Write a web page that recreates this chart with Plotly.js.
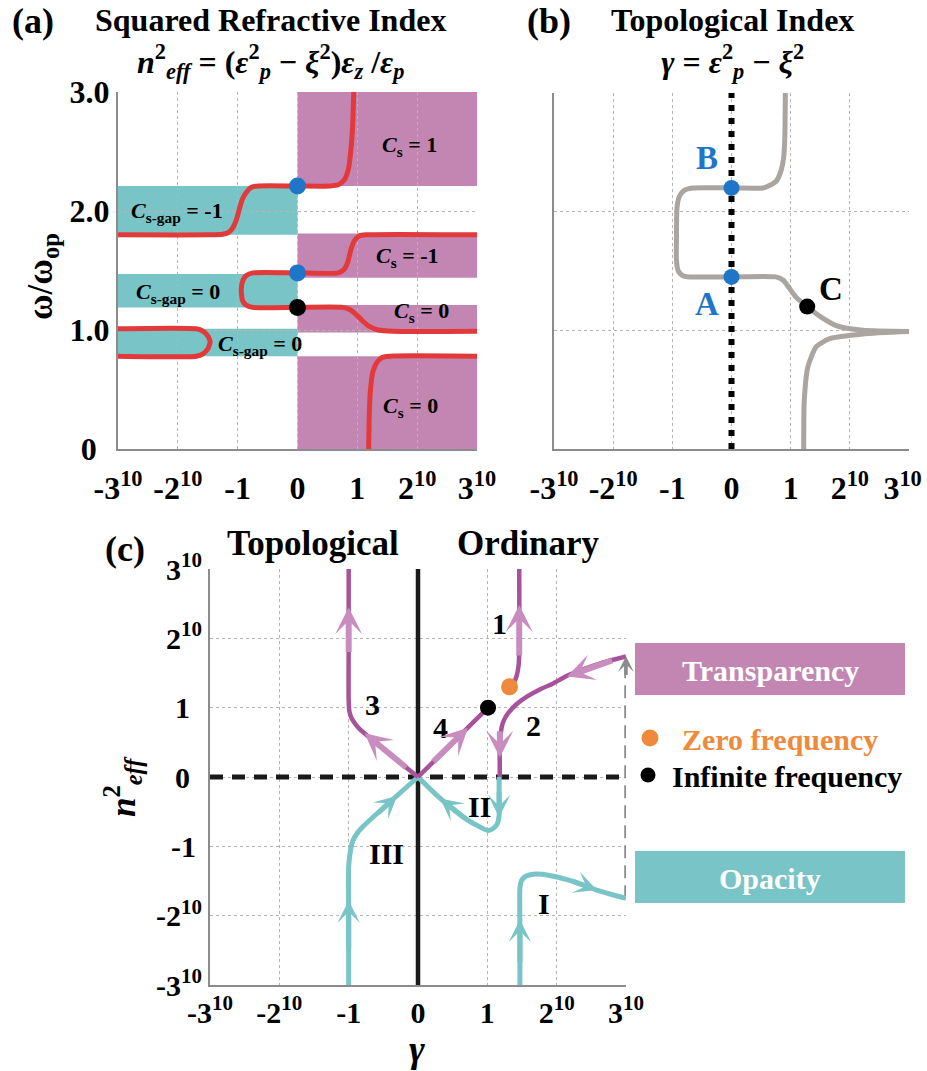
<!DOCTYPE html>
<html><head><meta charset="utf-8">
<script src="https://cdn.plot.ly/plotly-3.0.1.min.js"></script>
<style>html,body{margin:0;padding:0;background:#fff}#chart{width:927px;height:1071px}</style>
</head><body><div id="chart"></div>
<script>
// ---------- tick values / labels ----------
const powTickVals = [-3, -2, -1, 0, 1, 2, 3];
const powTickText = ['-3<sup>10</sup>', '-2<sup>10</sup>', '-1', '0', '1', '2<sup>10</sup>', '3<sup>10</sup>'];
const powTickTextB = ['-3<sup>10</sup>', '-2<sup>10</sup>', '-1', '0', '1', '2<sup>10</sup>', '3<sup>10</sup>\u2009\u2009'];
const nTickText = ['-3<sup>10</sup>', '-2<sup>10</sup>', '-1\u2009', '0\u2009\u2009', '1\u2009\u2009', '2<sup>10</sup>', '3<sup>10</sup>'];
const omegaTickVals = [0, 1, 2, 3];
const omegaTickText = ['0\u2009\u2009', '1.0', '2.0', '3.0'];

// ---------- panel (a): bands ----------
const gapBandX = [-3, 0];
const gapBandLo = [1.80, 1.19, 0.78];
const gapBandHi = [2.21, 1.47, 1.01];
const passBandX = [0, 3];
const passBandLo = [2.21, 1.44, 0.98, 0.00];
const passBandHi = [3.00, 1.81, 1.21, 0.78];

// ---------- panel (a): red dispersion curves ----------
const redTopX = [-3, -1.5, -1.25, -1.15, -1.08, -1.02, -0.97, -0.92, -0.85, -0.77, -0.65, 0, 0.55, 0.68, 0.78, 0.85, 0.89, 0.92, 0.94];
const redTopY = [1.80, 1.80, 1.805, 1.82, 1.86, 1.93, 2.02, 2.10, 2.16, 2.20, 2.21, 2.21, 2.21, 2.22, 2.26, 2.35, 2.50, 2.70, 3.00];
const redMidX = [3, 1.15, 1.03, 0.95, 0.89, 0.84, 0.78, 0.68, 0, -0.75, -0.85, -0.91, -0.94, -0.92, -0.86, -0.75, 0, 0.76, 0.88, 0.98, 1.08, 1.2, 1.35, 1.6, 3];
const redMidY = [1.80, 1.80, 1.79, 1.75, 1.67, 1.57, 1.51, 1.48, 1.48, 1.48, 1.46, 1.42, 1.34, 1.25, 1.21, 1.19, 1.19, 1.19, 1.17, 1.13, 1.08, 1.03, 1.00, 0.99, 0.99];
const redLoopX = [-3, -1.69, -1.58, -1.5, -1.46, -1.5, -1.58, -1.69, -3];
const redLoopY = [1.01, 1.01, 0.99, 0.95, 0.90, 0.84, 0.80, 0.78, 0.78];
const redLowX = [3, 1.54, 1.42, 1.33, 1.26, 1.22, 1.20, 1.19];
const redLowY = [0.78, 0.78, 0.77, 0.73, 0.65, 0.50, 0.30, 0.00];
const aBlueX = [0, 0], aBlueY = [2.21, 1.48];
const aBlackX = [0], aBlackY = [1.19];
const aLabelText = ['<i>C</i><sub>s</sub> = 1', '<i>C</i><sub>s</sub> = -1', '<i>C</i><sub>s</sub> = 0', '<i>C</i><sub>s</sub> = 0',
  '<i>C</i><sub>s-gap</sub> = -1', '<i>C</i><sub>s-gap</sub> = 0', '<i>C</i><sub>s-gap</sub> = 0'];
const aLabelX = [1.87, 1.84, 2.07, 1.89, -2.02, -1.99, -0.62];
const aLabelY = [2.55, 1.61, 1.15, 0.35, 1.99, 1.31, 0.87];

// ---------- panel (b): topological index ----------
const gammaUpX = [0.91, 0.90, 0.88, 0.84, 0.76, 0.64, 0.53, 0, -0.66, -0.80, -0.88, -0.92, -0.93, -0.93, -0.90, -0.82, -0.71, 0, 0.75, 0.88, 0.97, 1.09, 1.28, 1.49, 1.77, 2.22, 3.0];
const gammaUpY = [3.0, 2.60, 2.45, 2.35, 2.26, 2.22, 2.20, 2.20, 2.20, 2.18, 2.13, 2.04, 1.80, 1.59, 1.50, 1.46, 1.45, 1.45, 1.45, 1.42, 1.36, 1.28, 1.20, 1.12, 1.04, 1.00, 0.99];
const gammaLowX = [3.0, 2.22, 1.66, 1.43, 1.29, 1.23, 1.22];
const gammaLowY = [0.99, 0.97, 0.93, 0.86, 0.69, 0.41, 0.0];
const zeroLineX = [0, 0], zeroLineY = [0, 3];
const bBlueX = [0, 0], bBlueY = [2.2, 1.45];
const bBlackX = [1.28], bBlackY = [1.2];
const bLabelText = ['B', 'A', 'C'];
const bLabelX = [-0.42, -0.42, 1.69];
const bLabelY = [2.45, 1.22, 1.35];

// ---------- panel (c): n_eff^2 vs gamma ----------
const c1X = [1.32, 1.38, 1.42, 1.45, 1.46, 1.46];
const c1Y = [1.30, 1.36, 1.45, 1.60, 1.80, 3.00];
const c2X = [3.0, 2.7, 2.43, 2.15, 1.95, 1.75, 1.57, 1.42, 1.30, 1.24, 1.21, 1.19, 1.18, 1.18];
const c2Y = [1.74, 1.66, 1.57, 1.46, 1.35, 1.26, 1.16, 1.05, 0.92, 0.82, 0.73, 0.60, 0.50, 0.00];
const c3X = [-1.0, -1.0, -1.0, -0.99, -0.96, -0.90, -0.84, 0];
const c3Y = [3.0, 2.0, 1.1, 0.95, 0.85, 0.76, 0.69, 0];
const c4X = [0, 1.01], c4Y = [0, 1.0];
const cIX = [1.47, 1.47, 1.47, 1.49, 1.54, 1.62, 1.71, 1.90, 2.19, 2.58, 3.0];
const cIY = [-3.0, -2.2, -1.6, -1.5, -1.44, -1.41, -1.40, -1.42, -1.49, -1.63, -1.75];
const cIIX = [1.17, 1.17, 1.17, 1.15, 1.10, 1.01, 0.70, 0.30, 0];
const cIIY = [0, -0.3, -0.55, -0.66, -0.73, -0.77, -0.61, -0.29, 0];
const cIIIX = [-1.0, -1.0, -1.0, -0.98, -0.94, -0.87, -0.80, 0];
const cIIIY = [-3.0, -2.0, -1.3, -1.1, -0.92, -0.80, -0.72, 0];
const axisVX = [0, 0], axisVY = [-3, 3];
const axisHX = [-3, 3], axisHY = [0, 0];
const linkX = [3, 3], linkY = [-1.75, 1.70];
const zeroFreqX = [1.32], zeroFreqY = [1.30];
const infFreqX = [1.01], infFreqY = [1.0];
const cLabelText = ['1', '2', '3', '4', 'I', 'II', 'III'];
const cLabelX = [1.18, 1.66, -0.65, 0.32, 1.82, 0.88, -0.45];
const cLabelY = [2.22, 0.75, 1.04, 0.71, -1.82, -0.42, -1.10];
// arrows: tail -> head
const pArrowTailX = [-1.0, -0.15, 1.46, 0.20, 2.82, 1.18];
const pArrowTailY = [1.78, 0.12, 1.73, 0.20, 1.69, 0.68];
const pArrowHeadX = [-1.0, -0.77, 1.46, 0.72, 2.15, 1.18];
const pArrowHeadY = [2.45, 0.63, 2.48, 0.71, 1.45, 0.28];
const tArrowTailX = [1.17, 0.70, -0.60, -1.0, 1.47, 2.20];
const tArrowTailY = [-0.20, -0.61, -0.54, -2.5, -2.7, -1.49];
const tArrowHeadX = [1.17, 0.32, -0.30, -1.0, 1.47, 2.58];
const tArrowHeadY = [-0.58, -0.31, -0.27, -1.78, -2.06, -1.63];
const gArrowTailX = [3], gArrowTailY = [1.45], gArrowHeadX = [3], gArrowHeadY = [1.74];

// ---------- styling ----------
const FONT = '"Liberation Serif", "Times New Roman", serif';
const W = 927, H = 1071;
const PX = v => v / W, PY = v => 1 - v / H;
const RED = '#e23a3a', TEAL = '#78c4c7', PURPLE = '#c386b2', PDARK = '#a9529c', PLIGHT = '#c98cbf';
const BLUE = '#1f76c8', GRAY = '#aaa5a1', ORANGE = '#ef8a3c';

const traces = [];
function line(x, y, color, width, xa, ya, extra) {
  traces.push(Object.assign({type: 'scatter', mode: 'lines', x, y, xaxis: xa, yaxis: ya, hoverinfo: 'skip',
    line: {color, width, shape: 'spline', smoothing: 0.6}}, extra || {}));
}
function dots(x, y, color, size, xa, ya) {
  traces.push({type: 'scatter', mode: 'markers', x, y, xaxis: xa, yaxis: ya, hoverinfo: 'skip', cliponaxis: false,
    marker: {color, size, line: {width: 0}}});
}
// (a)
line(redTopX, redTopY, RED, 5, 'x', 'y');
line(redMidX, redMidY, RED, 5, 'x', 'y');
line(redLoopX, redLoopY, RED, 5, 'x', 'y');
line(redLowX, redLowY, RED, 5, 'x', 'y');
dots(aBlueX, aBlueY, BLUE, 17, 'x', 'y');
dots(aBlackX, aBlackY, '#000', 17, 'x', 'y');
// (b)
line(zeroLineX, zeroLineY, '#000', 6, 'x2', 'y2', {line: {color: '#000', width: 6, dash: '6px,7px'}});
line(gammaUpX, gammaUpY, GRAY, 5, 'x2', 'y2');
line(gammaLowX, gammaLowY, GRAY, 5, 'x2', 'y2');
dots(bBlueX, bBlueY, BLUE, 16, 'x2', 'y2');
dots(bBlackX, bBlackY, '#000', 16, 'x2', 'y2');
// (c)
line(axisHX, axisHY, '#1a1a1a', 5, 'x3', 'y3', {line: {color: '#1a1a1a', width: 5, dash: '13px,9px'}});
line(axisVX, axisVY, '#1a1a1a', 4.5, 'x3', 'y3', {line: {color: '#1a1a1a', width: 4.5}});
line(linkX, linkY, '#8a8a8a', 3.5, 'x3', 'y3', {line: {color: '#8a8a8a', width: 3.5, dash: '13px,7px'}});
line(cIX, cIY, TEAL, 5, 'x3', 'y3');
line(cIIX, cIIY, TEAL, 5, 'x3', 'y3');
line(cIIIX, cIIIY, TEAL, 5, 'x3', 'y3');
line(c1X, c1Y, PDARK, 4.5, 'x3', 'y3');
line(c2X, c2Y, PDARK, 4.5, 'x3', 'y3');
line(c3X, c3Y, PDARK, 4.5, 'x3', 'y3');
line(c4X, c4Y, PDARK, 4.5, 'x3', 'y3');
dots(zeroFreqX, zeroFreqY, ORANGE, 17, 'x3', 'y3');
dots(infFreqX, infFreqY, '#000', 16, 'x3', 'y3');

// ---------- shapes ----------
const shapes = [];
gapBandLo.forEach((lo, i) => shapes.push({type: 'rect', xref: 'x', yref: 'y', x0: gapBandX[0], x1: gapBandX[1], y0: lo, y1: gapBandHi[i],
  fillcolor: TEAL, line: {width: 0}, layer: 'below'}));
passBandLo.forEach((lo, i) => shapes.push({type: 'rect', xref: 'x', yref: 'y', x0: passBandX[0], x1: passBandX[1], y0: lo, y1: passBandHi[i],
  fillcolor: PURPLE, line: {width: 0}, layer: 'below'}));
// legend boxes and dots (paper)
shapes.push({type: 'rect', xref: 'paper', yref: 'paper', x0: PX(635), x1: PX(905), y0: PY(695), y1: PY(643), fillcolor: PURPLE, line: {width: 0}});
shapes.push({type: 'rect', xref: 'paper', yref: 'paper', x0: PX(635), x1: PX(905), y0: PY(903), y1: PY(851), fillcolor: TEAL, line: {width: 0}});
function circ(cx, cy, r, c) {
  shapes.push({type: 'circle', xref: 'paper', yref: 'paper', x0: PX(cx - r), x1: PX(cx + r), y0: PY(cy + r), y1: PY(cy - r), fillcolor: c, line: {width: 0}});
}
circ(650, 738, 8.5, ORANGE);
circ(648, 775, 7.5, '#000');

// ---------- annotations ----------
const ann = [];
function txt(text, x, y, size, opts) {
  ann.push(Object.assign({text: '<b>' + text + '</b>', x: PX(x), y: PY(y), xref: 'paper', yref: 'paper', showarrow: false,
    xanchor: 'center', yanchor: 'middle', font: {family: FONT, size, color: '#000'}}, opts || {}));
}
txt('(a)', 33, 21, 36);
txt('Squared Refractive Index</b><br><b><i>n</i><sup>2</sup><sub><i>eff</i></sub> = (<i>ε</i><sup>2</sup><sub><i>p</i></sub> − <i>ξ</i><sup>2</sup>)<i>ε</i><sub><i>z</i></sub> /<i>ε</i><sub><i>p</i></sub>',
  270, 0, 32, {yanchor: 'top'});
txt('(b)', 549, 21, 36);
txt('Topological Index</b><br><b><i>γ</i> = <i>ε</i><sup>2</sup><sub><i>p</i></sub> − <i>ξ</i><sup>2</sup>', 732, 0, 32, {yanchor: 'top'});
txt('(c)', 125, 549, 36);
txt('Topological', 313, 543, 35);
txt('Ordinary', 528, 543, 35);
txt('ω/ω<sub>op</sub>', 43, 277, 35, {textangle: -90});
txt('<i>n</i><sup>2</sup><sub><i>eff</i></sub>', 122, 787, 35, {textangle: -90});
txt('<i>γ</i>', 417, 1049, 38);
txt('Transparency', 770, 670, 30, {font: {family: FONT, size: 30, color: '#fff'}});
txt('Opacity', 770, 878, 30, {font: {family: FONT, size: 30, color: '#fff'}});
txt('Zero frequency', 780, 739, 30, {font: {family: FONT, size: 30, color: ORANGE}});
txt('Infinite frequency', 787, 776, 30);

aLabelText.forEach((t, i) => ann.push({text: '<b>' + t + '</b>', x: aLabelX[i], y: aLabelY[i], xref: 'x', yref: 'y', showarrow: false,
  font: {family: FONT, size: 22, color: '#000'}}));
bLabelText.forEach((t, i) => ann.push({text: '<b>' + t + '</b>', x: bLabelX[i], y: bLabelY[i], xref: 'x2', yref: 'y2', showarrow: false,
  font: {family: FONT, size: 33, color: i < 2 ? BLUE : '#000'}}));
cLabelText.forEach((t, i) => ann.push({text: '<b>' + t + '</b>', x: cLabelX[i], y: cLabelY[i], xref: 'x3', yref: 'y3', showarrow: false,
  font: {family: FONT, size: 30, color: '#000'}}));
function arrows(tx, ty, hx, hy, color, width) {
  tx.forEach((_, i) => ann.push({text: '', x: hx[i], y: hy[i], ax: tx[i], ay: ty[i], xref: 'x3', yref: 'y3', axref: 'x3', ayref: 'y3',
    showarrow: true, arrowhead: 3, arrowsize: 0.75, arrowwidth: width, arrowcolor: color}));
}
arrows(pArrowTailX, pArrowTailY, pArrowHeadX, pArrowHeadY, PLIGHT, 6);
arrows(tArrowTailX, tArrowTailY, tArrowHeadX, tArrowHeadY, TEAL, 5);
arrows(gArrowTailX, gArrowTailY, gArrowHeadX, gArrowHeadY, '#8a8a8a', 3.5);

// ---------- axes ----------
const tickFont = s => ({family: FONT, size: s, color: '#000', weight: 'bold'});
function ax(domain, anchor, range, vals, text, size, extra) {
  return Object.assign({domain, anchor, range, tickmode: 'array', tickvals: vals, ticktext: text ? text.map(t => '<b>' + t + '</b>') : undefined,
    showticklabels: !!text, ticks: '', tickfont: tickFont(size), showgrid: true, gridcolor: '#b5b5b5', griddash: 'dot', gridwidth: 1,
    showline: true, linecolor: '#8c8c8c', linewidth: 2, zeroline: false, fixedrange: true, ticklabeloverflow: 'allow'}, extra || {});
}
const layout = {
  width: W, height: H, margin: {l: 0, r: 0, t: 0, b: 0}, paper_bgcolor: '#fff', plot_bgcolor: 'rgba(0,0,0,0)', showlegend: false,
  font: {family: FONT},
  xaxis: ax([PX(118), PX(477)], 'y', [-3, 3], powTickVals, powTickText, 32, {ticklabelstandoff: 10}),
  yaxis: ax([PY(449), PY(92)], 'x', [0, 3], omegaTickVals, omegaTickText, 32),
  xaxis2: ax([PX(554), PX(909)], 'y2', [-3, 3], powTickVals, powTickTextB, 32, {ticklabelstandoff: 10}),
  yaxis2: ax([PY(449), PY(93)], 'x2', [0, 3], omegaTickVals, null, 32),
  xaxis3: ax([PX(210), PX(626)], 'y3', [-3, 3], powTickVals, powTickText, 30),
  yaxis3: ax([PY(985), PY(569)], 'x3', [-3, 3], powTickVals, nTickText, 30),
  shapes, annotations: ann
};
Plotly.newPlot('chart', traces, layout, {displayModeBar: false, staticPlot: true});
</script></body></html>
